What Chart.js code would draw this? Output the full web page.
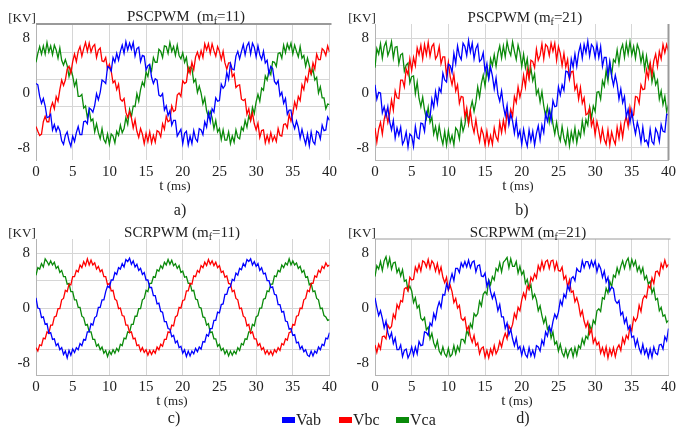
<!DOCTYPE html>
<html>
<head>
<meta charset="utf-8">
<script src="https://cdn.jsdelivr.net/npm/chart.js@4.4.1/dist/chart.umd.min.js"></script>
<style>
  body { margin: 0; background: #fff; }
  #page { position: relative; width: 678px; height: 430px; overflow: hidden; background: #fff;
          font-family: "Liberation Serif", "Times New Roman", serif; color: #222; }
  .panel { position: absolute; width: 340px; height: 195px; }
  .t { position: absolute; transform: translate(-50%, -50%); white-space: nowrap; line-height: 1; }
  .title { font-size: 15px; }
  .unit { font-size: 13px; }
  .xt { font-size: 13px; }
  .xt b { font-size: 15px; font-weight: normal; }
  .cap { font-size: 16px; }
  .sub { font-size: 10px; position: relative; top: 3px; }
  .leg { position: absolute; top: 411px; font-size: 16px; display: flex; align-items: center; }
  .leg i { display: inline-block; width: 13px; height: 6px; margin-right: 1px; }
</style>
</head>
<body>
<div id="page">
  <canvas id="chartA" class="panel" width="340" height="195" style="left:0;top:0"></canvas>
  <canvas id="chartB" class="panel" width="340" height="195" style="left:339px;top:0"></canvas>
  <canvas id="chartC" class="panel" width="340" height="195" style="left:0;top:215px"></canvas>
  <canvas id="chartD" class="panel" width="340" height="195" style="left:339px;top:215px"></canvas>

  <div class="t title" style="left:186px;top:16px">PSCPWM&nbsp; (m<span class="sub">f</span>=11)</div>
  <div class="t title" style="left:525px;top:17px">PSCPWM (m<span class="sub">f</span>=21)</div>
  <div class="t title" style="left:182px;top:232px">SCRPWM (m<span class="sub">f</span>=11)</div>
  <div class="t title" style="left:528px;top:232px">SCRPWM (m<span class="sub">f</span>=21)</div>

  <div class="t unit" style="left:22px;top:17px">[KV]</div>
  <div class="t unit" style="left:362px;top:17px">[KV]</div>
  <div class="t unit" style="left:22px;top:232px">[KV]</div>
  <div class="t unit" style="left:362px;top:232px">[KV]</div>

  <div class="t xt" style="left:175px;top:185px"><b>t</b> (ms)</div>
  <div class="t xt" style="left:518px;top:185px"><b>t</b> (ms)</div>
  <div class="t xt" style="left:172px;top:400px"><b>t</b> (ms)</div>
  <div class="t xt" style="left:517px;top:400px"><b>t</b> (ms)</div>

  <div class="t cap" style="left:180px;top:210px">a)</div>
  <div class="t cap" style="left:522px;top:210px">b)</div>
  <div class="t cap" style="left:174px;top:418px">c)</div>
  <div class="t cap" style="left:523px;top:418px">d)</div>

  <div class="leg" style="left:282px"><i style="background:#0000ff"></i>Vab</div>
  <div class="leg" style="left:339px"><i style="background:#ff0000"></i>Vbc</div>
  <div class="leg" style="left:396px"><i style="background:#0a8a0a"></i>Vca</div>
</div>

<script>
// sample times (ms)
const TIME_MS = [
  0,0.25,0.5,0.75,1,1.25,1.5,1.75,2,2.25,2.5,2.75,3,3.25,3.5,3.75,4,4.25,4.5,4.75,
  5,5.25,5.5,5.75,6,6.25,6.5,6.75,7,7.25,7.5,7.75,8,8.25,8.5,8.75,9,9.25,9.5,9.75,
  10,10.25,10.5,10.75,11,11.25,11.5,11.75,12,12.25,12.5,12.75,13,13.25,13.5,13.75,14,14.25,14.5,14.75,
  15,15.25,15.5,15.75,16,16.25,16.5,16.75,17,17.25,17.5,17.75,18,18.25,18.5,18.75,19,19.25,19.5,19.75,
  20,20.25,20.5,20.75,21,21.25,21.5,21.75,22,22.25,22.5,22.75,23,23.25,23.5,23.75,24,24.25,24.5,24.75,
  25,25.25,25.5,25.75,26,26.25,26.5,26.75,27,27.25,27.5,27.75,28,28.25,28.5,28.75,29,29.25,29.5,29.75,
  30,30.25,30.5,30.75,31,31.25,31.5,31.75,32,32.25,32.5,32.75,33,33.25,33.5,33.75,34,34.25,34.5,34.75,
  35,35.25,35.5,35.75,36,36.25,36.5,36.75,37,37.25,37.5,37.75,38,38.25,38.5,38.75,39,39.25,39.5,39.75,
  40
];

// a) PSCPWM mf=11
const A_VAB = [
  1.4,1.2,-0.5,-1.5,-0.8,-1.9,-3.6,-3.5,-3.1,-5.4,-4.6,
  -5.6,-4.9,-5.5,-7.0,-7.5,-6.2,-5.7,-7.0,-7.8,-6.3,-7.1,
  -5.8,-4.9,-6.1,-6.1,-4.2,-4.1,-4.5,-2.2,-2.4,-2.8,-1.8,
  -0.1,-1.0,0.1,1.9,1.7,1.4,3.9,3.7,3.2,5.2,4.5,
  5.8,4.8,6.1,7.0,5.8,7.5,6.3,
  7.3,6.4,7.4,5.4,6.5,6.7,4.6,5.5,5.4,3.4,4.0,
  4.2,2.3,1.4,2.1,1.9,-0.3,-0.5,-0.1,-2.5,-1.9,-3.3,
  -2.6,-4.7,-4.0,-4.0,-6.3,-5.8,-5.3,-7.4,-5.9,-5.6,-7.6,
  -6.3,-7.4,-5.5,-6.7,-7.1,-5.2,-5.4,-6.1,-4.2,-5.0,-2.9,
  -4.2,-2.3,-2.8,-0.7,-1.2,-1.1,1.3,0.7,1.1,3.0,2.0,
  4.3,3.5,3.4,5.4,6.1,5.0,6.1,7.1,5.6,6.9,7.4,
  5.7,7.3,6.7,5.3,6.9,5.6,4.9,6.1,4.4,4.8,2.8,
  3.9,3.6,1.7,1.3,1.8,-0.4,0.1,-1.5,-0.8,-3.1,-2.5,
  -2.5,-4.4,-5.2,-4.1,-5.0,-6.6,-5.3,-6.5,-7.5,-6.0,-7.7,
  -5.7,-7.1,-7.5,-5.6,-5.8,-6.7,-4.7,-5.5,-5.4,-3.5,-4.0
];
const A_VBC = [
  -4.9,-5.6,-6.2,-6.0,-4.2,-3.4,-4.2,-4.2,-2.2,-1.4,-2.3,
  -0.5,-1.2,0.5,1.9,1.1,1.9,3.5,3.9,2.9,4.6,5.7,
  4.6,6.1,6.8,5.4,6.5,7.4,6.1,
  7.3,6.0,6.8,7.1,5.2,6.3,6.6,4.7,4.6,5.2,3.5,
  4.2,3.2,1.5,1.8,0.5,1.3,-0.9,-1.2,-0.8,-2.8,-3.6,
  -2.7,-3.6,-5.1,-3.9,-5.6,-6.5,-5.2,-6.0,-7.4,-5.9,-7.1,
  -5.7,-7.3,-6.2,-7.2,-5.5,-5.7,-6.4,-4.5,-5.3,-3.4,-4.2,
  -4.0,-1.9,-2.7,-2.5,-0.3,0.0,-0.5,1.8,1.4,1.6,3.7,
  2.9,4.5,3.4,5.3,6.0,5.0,6.2,5.2,7.2,6.3,7.2,
  5.8,7.2,6.2,5.4,6.8,6.1,4.9,6.1,4.4,3.5,4.4,
  4.4,2.4,2.8,0.8,1.1,1.2,-0.9,-1.1,-0.9,-3.1,-2.3,
  -4.0,-2.9,-4.5,-5.4,-4.4,-6.5,-5.5,-5.4,-7.3,-6.2,-7.2,
  -5.8,-7.0,-6.3,-7.1,-5.2,-6.2,-6.3,-4.6,-4.5,-5.1,-3.1,
  -4.1,-3.0,-1.3,-2.2,-0.5,-1.1,1.2,0.5,2.3,1.7,3.5,
  2.8,4.4,3.5,5.7,4.9,4.9,6.5,6.2,5.5,6.9,6.0
];
const A_VCA = [
  4.5,5.8,6.8,5.7,6.9,5.7,7.4,
  6.0,6.9,5.6,7.0,6.3,5.1,6.6,4.8,4.1,4.9,4.0,
  2.4,3.5,2.5,1.0,1.8,-0.5,-0.5,-0.2,-2.2,-1.9,-3.6,
  -2.5,-4.1,-3.8,-5.7,-4.5,-5.8,-6.7,-5.2,-6.8,-7.3,-6.0,
  -7.5,-6.0,-6.3,-7.3,-5.6,-6.2,-4.7,-5.8,-5.2,-3.6,-4.6,
  -2.4,-3.5,-1.9,-2.0,-0.1,-1.2,0.5,1.6,1.0,3.1,2.4,
  4.0,3.2,5.2,4.5,4.5,6.4,6.1,5.2,6.9,6.8,5.8,
  7.4,6.1,6.8,5.5,7.0,5.5,5.0,5.9,4.5,5.2,3.1,
  3.8,3.6,1.6,2.0,0.1,1.0,0.0,-1.6,-0.7,-2.6,-3.5,
  -2.7,-3.6,-5.2,-4.0,-5.7,-5.2,-6.8,-5.4,-6.9,-6.9,-5.7,
  -7.4,-6.3,-7.2,-5.4,-6.5,-6.7,-5.0,-5.5,-4.0,-5.0,-3.4,
  -4.0,-2.1,-3.0,-1.3,-0.2,-1.2,0.7,0.4,2.5,1.9,3.3,
  2.7,4.6,4.5,3.9,5.8,5.9,5.1,7.0,5.9,7.2,6.4,
  7.3,5.7,7.0,6.1,5.3,6.8,5.1,5.5,3.9,5.1,4.0,
  2.7,3.5,1.9,2.3,0.0,0.9,-0.7,-0.7,-2.3,-1.6,-1.7
];

// b) PSCPWM mf=21
const B_VAB = [
  1.2,-0.9,0.1,0.0,-2.9,-2.0,-3.4,-2.0,-4.2,-5.4,-4.0,
  -6.6,-5.1,-6.2,-5.0,-7.5,-6.9,-5.7,-7.9,-6.0,-6.3,-7.8,
  -4.9,-6.5,-6.7,-4.4,-4.5,-5.6,-2.8,-3.5,-3.6,-0.9,-2.1,
  0.2,-1.5,0.7,0.1,2.9,1.9,1.6,4.2,4.0,3.0,5.8,
  4.3,6.9,5.5,4.9,7.3,6.8,5.5,
  7.7,6.0,7.3,5.0,6.5,7.1,4.6,4.9,5.9,3.1,4.3,
  2.1,3.8,2.5,0.6,2.2,-0.2,-1.2,0.3,-1.9,-3.3,-1.8,
  -4.6,-3.1,-4.1,-5.9,-4.0,-6.4,-5.5,-7.5,-5.3,-6.8,-7.8,
  -5.4,-7.0,-5.6,-7.6,-5.9,-4.8,-6.8,-4.7,-5.8,-3.0,-4.1,
  -2.5,-4.0,-1.1,-2.0,-1.9,0.9,-0.3,1.2,0.4,3.2,3.1,
  2.2,5.0,3.8,5.7,3.9,5.9,7.0,5.1,7.1,5.9,7.6,
  5.4,7.1,6.7,5.2,7.1,5.2,6.8,3.9,5.2,5.2,2.6,
  4.6,2.5,1.1,2.6,1.3,-0.9,0.6,-1.4,-0.5,-3.5,-2.4,
  -4.3,-2.6,-4.6,-6.0,-4.3,-5.4,-7.2,-5.0,-7.1,-6.9,-7.7,
  -5.3,-7.1,-7.5,-5.2,-5.8,-7.1,-4.6,-5.6,-5.7,-3.1,-3.2
];
const B_VBC = [
  -5.1,-7.2,-5.3,-4.3,-6.0,-3.9,-2.7,-4.3,-3.0,-1.0,-2.5,
  0.3,-0.7,-0.8,1.9,1.9,0.9,3.5,2.7,5.0,3.3,5.2,
  4.0,6.6,5.6,7.0,5.0,7.1,5.6,
  7.4,5.4,6.8,7.2,5.0,5.5,6.8,4.3,5.3,5.3,2.5,
  4.5,2.4,1.2,2.7,0.3,1.2,-1.5,-0.5,-0.6,-3.5,-2.2,
  -4.4,-2.6,-4.7,-5.8,-3.9,-5.8,-7.1,-5.2,-6.0,-7.6,-5.6,
  -7.5,-6.2,-7.5,-5.1,-6.4,-7.0,-4.3,-5.8,-4.0,-5.5,-2.7,
  -4.3,-2.4,-3.4,-0.5,-1.4,0.9,-0.6,0.6,2.6,0.9,3.5,
  2.1,4.8,4.6,3.7,6.4,4.8,5.5,7.2,5.0,7.1,6.8,
  5.5,7.3,6.1,7.3,4.8,6.8,5.8,4.0,5.8,3.8,4.9,
  2.0,3.1,3.2,0.5,1.2,-0.9,0.8,-1.5,-0.7,-3.2,-3.0,
  -2.2,-4.8,-3.9,-6.1,-4.2,-5.4,-7.0,-5.2,-6.8,-7.5,-5.4,
  -7.6,-5.7,-6.8,-7.5,-5.0,-6.6,-4.6,-6.5,-4.4,-3.4,-4.9,
  -2.1,-3.5,-3.2,-0.5,-0.6,-1.5,1.2,0.5,0.6,3.4,2.2,
  4.4,2.6,4.7,5.7,3.9,6.1,5.0,7.1,5.9,7.1,6.1
];
const B_VCA = [
  3.7,6.5,5.7,7.2,5.1,6.8,7.5,
  5.5,6.3,7.5,5.1,6.7,6.8,4.3,5.6,5.8,3.2,4.1,
  4.4,1.5,2.4,2.5,-0.1,1.6,-0.8,-2.0,-0.6,-2.5,-3.7,
  -2.1,-4.3,-3.5,-6.0,-4.9,-6.6,-4.8,-6.4,-7.5,-5.6,-7.6,
  -5.5,-7.2,-6.2,-7.6,-5.1,-5.5,-6.7,-4.0,-5.6,-4.6,-2.7,
  -4.5,-2.4,-1.2,-2.7,-1.3,0.9,-0.6,1.4,2.6,1.0,3.3,
  2.2,5.0,4.0,5.6,3.9,5.8,6.9,5.1,6.9,5.3,7.5,
  6.2,5.5,7.5,6.1,4.9,7.0,5.9,3.9,5.7,3.7,5.0,
  2.3,3.6,1.8,2.8,-0.2,0.5,-1.3,0.2,-1.9,-3.4,-2.0,
  -4.3,-2.7,-4.5,-6.0,-4.3,-6.1,-7.0,-4.9,-6.6,-7.5,-5.5,
  -7.7,-5.7,-7.0,-5.1,-7.3,-5.6,-6.4,-4.1,-5.8,-3.9,-4.7,
  -2.1,-3.7,-1.9,-2.7,0.1,0.2,-0.9,1.8,1.0,3.3,1.7,
  4.4,2.6,4.9,4.5,6.3,4.3,6.3,7.1,5.2,7.3,5.7,
  7.5,5.6,6.8,5.1,7.1,6.3,4.5,5.8,3.5,5.4,3.6,
  4.3,1.6,3.0,1.2,1.9,-0.9,0.3,-1.7,-0.5,-2.7,-1.7
];

// c) SCRPWM mf=11
const C_VAB = [
  1.5,0.0,-0.1,-1.4,-1.3,-2.4,-2.3,-3.7,-3.6,-4.6,-4.5,
  -5.5,-5.2,-6.1,-5.8,-6.8,-6.3,-7.3,-6.2,-6.9,-6.0,-6.5,
  -5.8,-6.1,-5.2,-5.5,-4.6,-4.7,-3.5,-3.5,-2.3,-2.5,-1.4,
  -1.2,0.1,0.1,1.2,1.2,2.4,3.2,3.0,4.1,4.1,5.2,
  4.9,5.9,5.7,6.5,6.0,7.1,6.8,
  7.3,6.4,6.9,6.0,6.4,5.5,5.8,4.9,5.2,4.1,4.1,
  3.0,3.0,1.8,1.8,0.6,0.7,-0.5,-0.6,-2.0,-2.0,-3.0,
  -3.1,-4.2,-4.0,-5.1,-4.8,-5.8,-5.6,-6.6,-6.1,-7.1,-6.3,
  -7.0,-6.3,-6.7,-5.9,-6.4,-5.7,-6.0,-4.9,-5.0,-3.9,-4.1,
  -3.0,-3.0,-1.8,-1.8,-0.6,-0.7,0.5,0.6,2.0,2.0,3.0,
  3.1,4.2,4.0,5.1,4.8,5.8,5.6,6.5,6.1,7.1,6.8,
  7.2,6.3,6.8,6.1,6.5,5.5,5.9,5.0,5.1,4.0,4.0,
  3.0,3.1,2.0,1.9,0.5,0.5,-0.6,-0.5,-1.9,-2.0,-3.1,
  -3.0,-4.0,-3.9,-5.1,-5.0,-6.0,-5.6,-6.4,-6.1,-6.9,-7.1,
  -6.3,-7.0,-6.3,-6.6,-5.7,-6.1,-5.3,-5.5,-4.4,-4.5,-3.6
];
const C_VBC = [
  -5.8,-6.3,-5.4,-5.5,-4.4,-4.5,-3.5,-3.7,-2.5,-2.5,-1.3,
  -1.2,-0.1,-0.1,1.2,1.4,2.6,2.4,3.5,3.4,4.6,4.6,
  5.5,5.3,6.3,5.9,6.8,6.2,7.2,
  6.3,7.0,6.3,6.6,5.7,6.1,5.3,5.6,4.6,4.6,3.4,
  3.6,2.5,2.6,1.3,1.1,-0.1,0.0,-1.1,-1.2,-2.5,-2.5,
  -3.6,-3.5,-4.5,-4.4,-5.5,-5.4,-6.3,-5.8,-6.5,-6.1,-6.9,
  -6.2,-6.8,-6.2,-6.6,-5.7,-6.1,-5.3,-5.6,-4.6,-4.6,-3.5,
  -3.6,-2.5,-2.6,-1.3,-1.1,0.1,0.0,1.1,1.2,2.5,2.5,
  3.6,3.5,4.7,4.6,5.5,5.2,6.2,5.9,6.7,6.2,7.1,
  6.4,6.9,6.2,6.7,5.9,6.2,5.2,5.4,4.5,4.7,3.6,
  3.5,2.4,2.6,1.4,1.2,-0.1,0.0,-1.2,-1.4,-2.6,-2.4,
  -3.7,-3.5,-4.5,-4.5,-5.5,-5.2,-6.1,-5.8,-6.7,-6.2,-6.8,
  -6.3,-6.9,-6.1,-6.5,-5.8,-6.2,-5.2,-5.4,-4.5,-4.7,-3.6,
  -3.5,-2.4,-2.5,-1.2,-1.1,0.0,-0.1,1.2,1.4,2.6,2.4,
  3.6,3.6,4.7,4.5,5.5,5.2,6.1,5.8,6.6,6.1,6.3
];
const C_VCA = [
  4.8,5.9,5.7,6.5,6.0,7.2,6.8,
  6.3,6.9,6.3,6.7,5.8,6.1,5.2,5.5,4.6,4.6,3.5,
  3.6,2.4,2.4,1.2,1.2,0.1,0.1,-1.2,-1.4,-2.5,-2.4,
  -3.5,-3.5,-4.6,-4.6,-5.6,-5.3,-6.1,-5.7,-6.6,-6.2,-7.1,
  -6.3,-6.8,-6.1,-6.6,-5.9,-6.3,-5.3,-5.5,-4.4,-4.5,-3.5,
  -3.6,-2.4,-2.4,-1.2,-1.2,-0.1,-0.1,1.2,1.4,2.6,2.4,
  3.6,3.6,4.6,4.5,5.6,5.4,6.2,5.8,6.7,6.3,7.1,
  6.4,7.0,6.2,6.5,5.8,6.2,5.2,5.4,4.5,4.6,3.6,
  3.6,2.5,2.6,1.3,1.2,0.1,0.0,-1.3,-1.4,-2.5,-2.3,
  -3.6,-3.5,-4.5,-4.5,-5.6,-5.3,-6.2,-5.9,-6.7,-6.2,-7.0,
  -6.3,-6.9,-6.3,-6.7,-5.8,-6.2,-5.2,-5.4,-4.5,-4.6,-3.5,
  -3.5,-2.4,-2.6,-1.3,-1.1,0.0,0.0,1.3,1.4,2.5,2.4,
  3.5,3.5,4.7,4.6,5.5,5.3,6.3,5.9,6.6,6.3,7.2,
  6.3,6.9,6.3,6.6,5.8,6.1,5.2,5.5,4.5,4.6,3.4,
  3.6,2.4,2.5,1.4,1.2,-0.1,0.0,-1.1,-1.3,-1.8,-1.7
];

// d) SCRPWM mf=21
const D_VAB = [
  1.5,0.1,-1.1,-0.4,-1.5,-2.9,-1.9,-3.6,-4.4,-3.6,-5.2,
  -4.4,-6.1,-6.1,-5.4,-7.1,-6.2,-6.0,-7.3,-6.7,-5.7,-6.9,
  -5.7,-6.7,-4.9,-5.5,-5.4,-3.5,-3.6,-4.0,-2.2,-2.6,-0.8,
  -1.6,0.0,0.9,0.1,2.0,1.9,3.5,2.7,4.0,5.0,4.0,
  5.8,5.8,5.2,6.6,6.0,6.8,6.0,
  7.0,5.9,6.7,6.9,5.3,6.2,6.3,4.7,4.6,5.1,3.2,
  4.0,2.4,1.4,2.2,1.1,-0.4,0.5,-1.3,-1.3,-3.0,-2.2,
  -3.9,-3.1,-4.5,-5.5,-4.4,-6.0,-5.6,-6.9,-5.7,-6.8,-7.2,
  -5.8,-7.0,-6.2,-7.1,-5.5,-5.7,-6.3,-4.7,-5.4,-3.5,-4.1,
  -2.7,-3.5,-2.0,-0.9,-1.5,-0.6,1.1,0.4,2.0,1.5,3.3,
  2.6,4.3,4.6,4.0,5.8,5.4,5.3,6.9,5.9,6.8,6.8,
  5.9,6.9,6.1,6.9,5.3,6.4,5.8,4.5,5.4,3.8,4.5,
  2.5,3.1,2.8,1.1,0.7,1.1,-1.0,-0.6,-2.2,-1.5,-3.1,
  -2.6,-4.3,-4.1,-5.6,-4.6,-5.9,-6.6,-5.3,-6.7,-6.0,-7.2,
  -6.0,-7.2,-5.7,-6.6,-6.8,-5.4,-5.3,-6.0,-4.2,-4.8,-3.0
];
const D_VBC = [
  -5.4,-6.5,-5.3,-6.0,-4.2,-4.1,-4.5,-2.5,-3.0,-2.7,-0.9,
  -1.5,0.5,-0.1,1.1,0.9,2.8,3.0,2.5,4.5,4.1,4.2,
  6.0,5.3,6.4,5.4,6.9,6.7,6.0,
  7.1,5.8,6.9,6.5,5.4,6.5,5.1,6.0,4.5,3.7,4.5,
  2.6,3.3,2.4,0.8,1.4,0.0,0.4,-1.5,-1.8,-1.4,-3.2,
  -2.7,-4.2,-5.0,-4.0,-5.5,-5.1,-6.7,-5.9,-5.7,-7.2,-6.2,
  -7.3,-6.0,-6.8,-5.5,-6.7,-6.1,-4.9,-5.7,-4.5,-3.7,-4.5,
  -2.6,-3.2,-2.4,-0.8,-1.5,0.1,-0.4,1.2,2.2,1.4,3.2,
  2.7,4.5,4.0,5.0,4.4,6.2,5.5,6.8,5.7,6.8,7.0,
  5.8,6.9,7.0,5.6,6.7,5.5,5.4,6.0,4.2,4.7,3.1,
  4.1,2.3,2.5,0.9,1.5,0.5,-1.1,-0.4,-1.9,-2.8,-2.0,
  -3.8,-3.1,-5.1,-4.4,-5.4,-5.0,-6.6,-5.8,-6.9,-5.7,-7.3,
  -6.0,-6.9,-5.8,-7.1,-5.9,-5.4,-6.2,-4.4,-5.2,-4.0,-4.5,
  -2.7,-3.3,-1.4,-1.9,-1.4,0.4,-0.5,1.3,1.8,1.5,3.3,
  2.9,4.4,3.6,5.3,5.4,4.8,6.5,5.8,7.0,6.0,6.4
];
const D_VCA = [
  4.6,6.2,5.7,6.8,5.5,6.9,7.5,
  6.1,7.3,5.7,6.6,6.7,5.2,5.8,4.7,5.6,3.9,4.1,
  2.6,3.2,2.5,0.8,1.5,0.0,0.4,-1.5,-1.8,-1.4,-3.2,
  -2.8,-4.5,-3.7,-5.1,-5.8,-4.8,-6.3,-6.8,-5.7,-6.7,-7.1,
  -5.9,-7.1,-6.8,-5.5,-6.7,-5.6,-6.3,-4.6,-4.6,-5.1,-3.3,
  -3.9,-2.3,-2.9,-0.8,-1.2,-0.8,1.0,0.3,2.0,2.4,2.0,
  4.1,3.4,4.6,4.1,5.8,5.4,6.6,5.3,6.7,7.0,7.4,
  5.9,7.2,6.1,6.1,6.8,5.1,6.1,4.9,5.4,3.6,4.2,
  2.8,3.4,1.4,2.0,1.2,-0.4,0.3,-1.1,-2.2,-1.4,-3.1,
  -2.7,-4.4,-3.5,-5.3,-4.9,-6.3,-5.3,-6.5,-7.1,-6.0,-7.2,
  -6.3,-5.9,-7.1,-5.8,-6.9,-5.5,-5.9,-4.5,-5.3,-4.1,-4.5,
  -2.5,-3.3,-1.8,-2.3,-0.4,-0.1,-0.5,1.5,1.3,2.9,2.2,
  3.9,3.1,4.8,4.5,5.9,5.0,6.1,6.9,5.8,6.8,7.3,
  5.8,7.1,6.2,6.9,5.4,6.1,5.1,5.9,4.2,4.7,3.5,
  3.9,2.2,2.9,1.2,1.4,-0.4,0.1,-1.2,-1.0,-2.1,-1.8
];

const SERIES_NAMES = ['Vab', 'Vbc', 'Vca'];
const SERIES_COLORS = ['#0000ff', '#ff0000', '#0a8a0a'];
const Y_TICK_LABELS = [-8, 0, 8];
const X_TICK_STEP = 5;

const FONT = '"Liberation Serif", "Times New Roman", serif';
const GRID = '#d6d6d6';
const AXIS = '#b4b4b4';

// extra frame lines seen on some panels
function framePlugin(edges) {
  return {
    id: 'frame',
    afterDraw(chart) {
      const { ctx, chartArea: a } = chart;
      ctx.save();
      ctx.strokeStyle = '#9a9a9a';
      if (edges.top) {
        ctx.lineWidth = edges.top;
        ctx.beginPath(); ctx.moveTo(a.left, a.top); ctx.lineTo(a.right + 2, a.top); ctx.stroke();
      }
      if (edges.right) {
        ctx.lineWidth = edges.right;
        ctx.beginPath(); ctx.moveTo(a.right, a.top); ctx.lineTo(a.right, a.bottom); ctx.stroke();
      }
      ctx.restore();
    }
  };
}

function makeChart(id, series, gridVals, opts) {
  const tickVals = [...new Set([...Y_TICK_LABELS, ...gridVals])].sort((p, q) => p - q);
  new Chart(document.getElementById(id), {
    type: 'line',
    data: {
      datasets: series.map((vals, i) => ({
        label: SERIES_NAMES[i],
        data: vals.map((v, k) => ({ x: TIME_MS[k], y: v })),
        borderColor: SERIES_COLORS[i],
        borderWidth: 1.3,
        pointRadius: 0,
        tension: 0,
        fill: false
      }))
    },
    options: {
      responsive: false,
      animation: false,
      devicePixelRatio: 1,
      layout: { padding: { top: 24, right: 9, left: 0, bottom: 0 } },
      plugins: { legend: { display: false }, tooltip: { enabled: false } },
      scales: {
        x: {
          type: 'linear', min: 0, max: 40,
          ticks: { stepSize: X_TICK_STEP, padding: 3, maxRotation: 0, color: '#222', font: { family: FONT, size: 15 } },
          grid: { color: GRID, drawTicks: false },
          border: { display: opts.bottom, color: AXIS },
          afterFit: s => { s.height = 35; }
        },
        y: {
          type: 'linear', min: -9.8, max: 10.1,
          afterBuildTicks: s => { s.ticks = tickVals.map(v => ({ value: v })); },
          ticks: {
            padding: 6, autoSkip: false, color: '#222', font: { family: FONT, size: 15 },
            callback: v => Y_TICK_LABELS.includes(v) ? String(v) : ''
          },
          grid: {
            drawTicks: false,
            color: c => (c.tick && gridVals.includes(c.tick.value)) ? GRID : 'rgba(0,0,0,0)'
          },
          border: { display: true, color: AXIS },
          afterFit: s => { s.width = 36; }
        }
      }
    },
    plugins: [framePlugin(opts)]
  });
}

makeChart('chartA', [A_VAB, A_VBC, A_VCA], [-6, -2, 2, 6], { top: 2, bottom: false });
makeChart('chartB', [B_VAB, B_VBC, B_VCA], [-8, -4, 0, 4, 8], { right: 2, bottom: true });
makeChart('chartC', [C_VAB, C_VBC, C_VCA], [-6, 0, 4, 8], { bottom: true });
makeChart('chartD', [D_VAB, D_VBC, D_VCA], [-6, 2], { top: 1, bottom: true });
</script>
</body>
</html>
